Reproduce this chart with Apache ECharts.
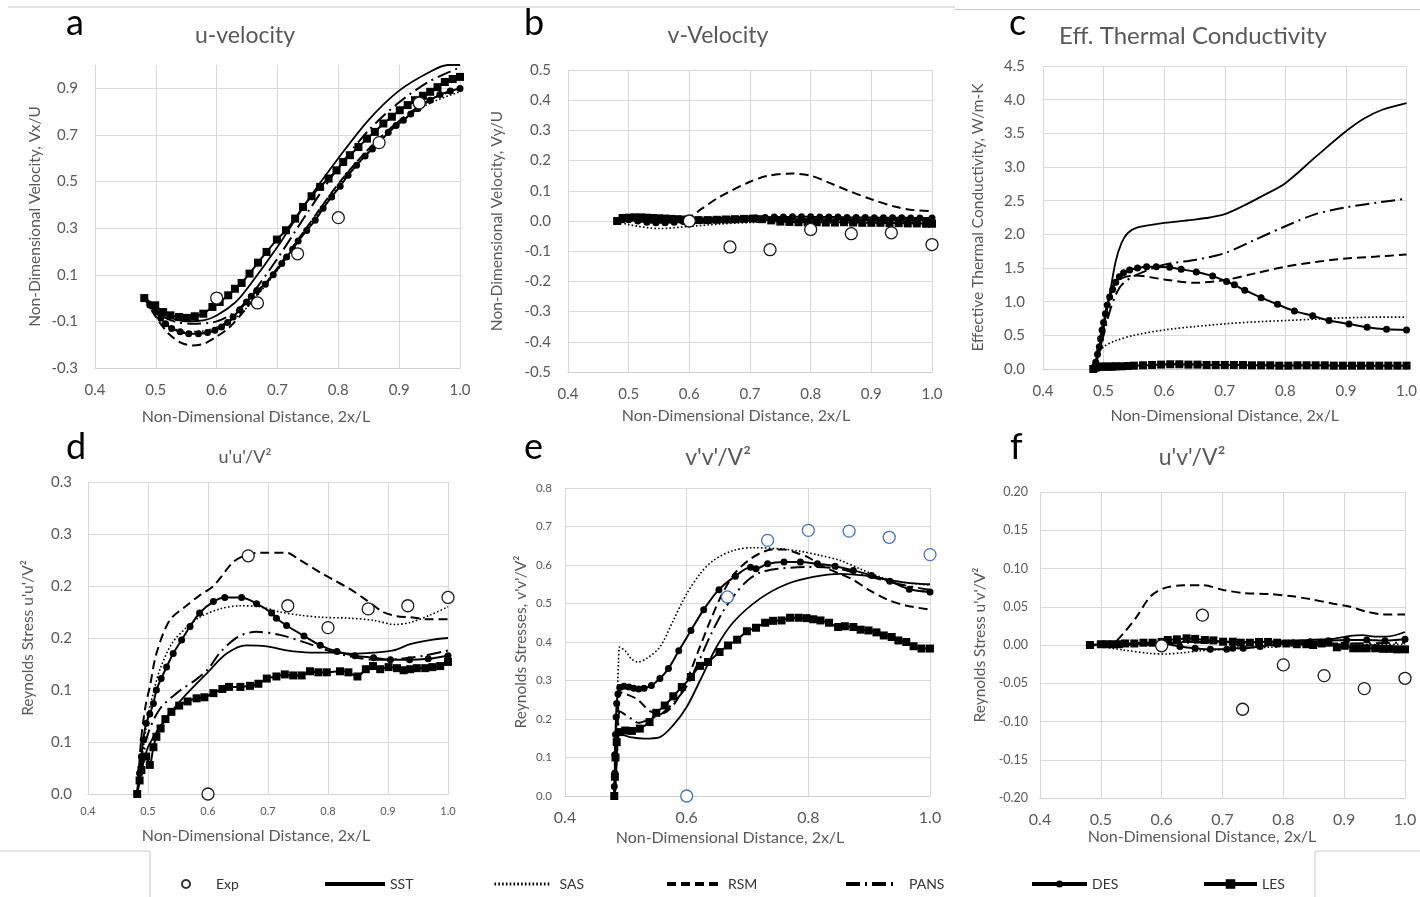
<!DOCTYPE html>
<html>
<head>
<meta charset="utf-8">
<title>Turbulence model comparison</title>
<script src="https://cdn.jsdelivr.net/npm/echarts@6/dist/echarts.min.js"></script>
<style>
  html, body { margin: 0; padding: 0; background: #ffffff; }
  #chart { width: 1420px; height: 897px; }
</style>
</head>
<body>
<div id="chart"></div>
<script>
// ---------------------------------------------------------------
// Data: [2x/L, value] pairs for each model, one block per panel
// ---------------------------------------------------------------
const SERIES_NAMES = ['Exp', 'SST', 'SAS', 'RSM', 'PANS', 'DES', 'LES'];

// (a) u-velocity, Vx/U
const a_Exp = [[0.6,0.0],[0.667,-0.021],[0.733,0.19],[0.8,0.345],[0.867,0.667],[0.933,0.837]];
const a_SST = [[0.481,0],[0.5,-0.05],[0.52,-0.08],[0.55,-0.1],[0.58,-0.095],[0.6,-0.075],[0.63,-0.02],[0.65,0.04],[0.7,0.22],[0.75,0.42],[0.8,0.6],[0.85,0.765],[0.9,0.89],[0.95,0.97],[0.98,1.0],[1.0,1.0]];
const a_SAS = [[0.481,0],[0.5,-0.08],[0.52,-0.12],[0.55,-0.145],[0.58,-0.14],[0.6,-0.125],[0.63,-0.085],[0.65,-0.04],[0.7,0.12],[0.75,0.3],[0.8,0.48],[0.85,0.625],[0.9,0.75],[0.95,0.835],[1.0,0.885]];
const a_RSM = [[0.481,0],[0.5,-0.08],[0.52,-0.15],[0.54,-0.19],[0.56,-0.203],[0.58,-0.195],[0.6,-0.165],[0.62,-0.128],[0.65,-0.04],[0.7,0.13],[0.75,0.31],[0.8,0.49],[0.85,0.64],[0.9,0.76],[0.95,0.85],[1.0,0.9]];
const a_PANS = [[0.481,0],[0.5,-0.06],[0.53,-0.1],[0.56,-0.11],[0.6,-0.1],[0.63,-0.06],[0.65,-0.01],[0.7,0.17],[0.75,0.37],[0.8,0.56],[0.85,0.72],[0.9,0.84],[0.95,0.93],[1.0,0.99]];
const a_DES = [[0.481,0],[0.49,-0.03],[0.5,-0.06],[0.508,-0.085],[0.516,-0.11],[0.526,-0.131],[0.54,-0.145],[0.554,-0.153],[0.57,-0.153],[0.585,-0.148],[0.597,-0.138],[0.608,-0.124],[0.618,-0.105],[0.627,-0.081],[0.638,-0.05],[0.649,-0.017],[0.657,0.008],[0.666,0.033],[0.68,0.059],[0.693,0.1],[0.707,0.148],[0.715,0.176],[0.725,0.21],[0.734,0.245],[0.748,0.29],[0.762,0.334],[0.775,0.385],[0.789,0.434],[0.803,0.48],[0.816,0.527],[0.83,0.57],[0.844,0.61],[0.856,0.64],[0.868,0.67],[0.882,0.71],[0.895,0.74],[0.907,0.763],[0.919,0.79],[0.931,0.813],[0.951,0.849],[0.967,0.873],[0.984,0.888],[1.0,0.899]];
const a_LES = [[0.481,0.0],[0.499,-0.031],[0.512,-0.06],[0.524,-0.074],[0.538,-0.081],[0.551,-0.085],[0.564,-0.078],[0.578,-0.067],[0.593,-0.038],[0.605,-0.017],[0.619,0.012],[0.63,0.04],[0.641,0.065],[0.654,0.105],[0.668,0.152],[0.682,0.198],[0.699,0.251],[0.714,0.291],[0.729,0.341],[0.742,0.391],[0.756,0.437],[0.77,0.477],[0.784,0.513],[0.797,0.548],[0.808,0.584],[0.819,0.613],[0.833,0.648],[0.847,0.684],[0.86,0.713],[0.874,0.749],[0.888,0.778],[0.901,0.806],[0.914,0.828],[0.926,0.849],[0.939,0.868],[0.951,0.885],[0.963,0.905],[0.975,0.927],[0.988,0.94],[1.0,0.949]];

// (b) v-velocity, Vy/U
const b_Exp = [[0.6,0.0],[0.667,-0.086],[0.733,-0.095],[0.8,-0.028],[0.867,-0.042],[0.933,-0.039],[1.0,-0.078]];
const b_SST = [[0.481,0],[0.5,0.005],[0.55,0.0],[0.6,0.0],[0.7,0.003],[0.8,0.005],[0.9,0.005],[1.0,0.005]];
const b_SAS = [[0.481,0],[0.5,-0.012],[0.55,-0.025],[0.6,-0.018],[0.65,-0.01],[0.7,-0.005],[0.8,0.0],[0.9,0.002],[1.0,0.003]];
const b_RSM = [[0.481,0],[0.49,0.02],[0.52,0.02],[0.56,0.012],[0.6,0.015],[0.62,0.04],[0.65,0.08],[0.7,0.13],[0.73,0.15],[0.77,0.157],[0.8,0.15],[0.83,0.127],[0.86,0.102],[0.9,0.072],[0.94,0.047],[0.97,0.036],[1.0,0.033]];
const b_PANS = [[0.481,0],[0.5,0.01],[0.55,0.005],[0.6,0.0],[0.7,0.005],[0.8,0.0],[0.9,-0.002],[1.0,-0.005]];
const b_DES = [[0.481,0],[0.49,0.004],[0.5,0.004],[0.515,0.0],[0.53,-0.004],[0.545,-0.006],[0.56,-0.006],[0.575,-0.004],[0.59,-0.002],[0.605,0.0],[0.62,0.002],[0.635,0.003],[0.65,0.004],[0.665,0.005],[0.68,0.006],[0.695,0.008],[0.71,0.01],[0.725,0.012],[0.74,0.013],[0.755,0.013],[0.77,0.014],[0.785,0.014],[0.8,0.014],[0.815,0.013],[0.83,0.013],[0.845,0.013],[0.86,0.012],[0.875,0.012],[0.89,0.012],[0.905,0.011],[0.92,0.011],[0.935,0.011],[0.95,0.011],[0.965,0.01],[0.98,0.01],[1.0,0.01]];
const b_LES = [[0.481,0],[0.49,0.01],[0.5,0.011],[0.51,0.012],[0.52,0.012],[0.53,0.011],[0.54,0.01],[0.55,0.009],[0.56,0.008],[0.57,0.007],[0.58,0.006],[0.59,0.005],[0.6,0.004],[0.615,0.003],[0.63,0.003],[0.645,0.004],[0.66,0.005],[0.675,0.006],[0.69,0.007],[0.705,0.008],[0.72,0.006],[0.735,0.002],[0.75,-0.002],[0.765,-0.003],[0.78,-0.004],[0.795,-0.004],[0.81,-0.004],[0.825,-0.005],[0.84,-0.005],[0.855,-0.004],[0.87,-0.005],[0.885,-0.006],[0.9,-0.006],[0.915,-0.006],[0.93,-0.007],[0.945,-0.007],[0.96,-0.008],[0.975,-0.008],[0.99,-0.009],[1.0,-0.009]];

// (c) effective thermal conductivity, W/m-K
const c_SST = [[0.483,0],[0.49,0.15],[0.5,0.6],[0.51,1.1],[0.52,1.6],[0.53,1.88],[0.54,2.02],[0.555,2.1],[0.6,2.17],[0.65,2.22],[0.675,2.25],[0.7,2.3],[0.73,2.42],[0.76,2.56],[0.8,2.76],[0.85,3.15],[0.9,3.53],[0.93,3.72],[0.96,3.85],[1.0,3.95]];
const c_SAS = [[0.483,0],[0.49,0.2],[0.5,0.33],[0.52,0.42],[0.55,0.5],[0.6,0.58],[0.65,0.63],[0.7,0.67],[0.75,0.7],[0.8,0.72],[0.85,0.74],[0.9,0.76],[0.95,0.77],[1.0,0.77]];
const c_RSM = [[0.483,0],[0.5,0.7],[0.51,1.1],[0.52,1.3],[0.55,1.39],[0.6,1.33],[0.65,1.28],[0.7,1.32],[0.75,1.42],[0.8,1.52],[0.85,1.59],[0.9,1.64],[0.95,1.67],[1.0,1.7]];
const c_PANS = [[0.483,0],[0.5,0.5],[0.51,0.85],[0.52,1.1],[0.53,1.25],[0.55,1.38],[0.6,1.55],[0.65,1.62],[0.7,1.72],[0.75,1.92],[0.8,2.12],[0.85,2.3],[0.9,2.4],[0.95,2.47],[1.0,2.53]];
const c_DES = [[0.483,0],[0.487,0.1],[0.49,0.22],[0.493,0.33],[0.495,0.45],[0.4975,0.58],[0.5,0.69],[0.503,0.82],[0.506,0.95],[0.51,1.07],[0.515,1.18],[0.52,1.29],[0.526,1.37],[0.533,1.43],[0.543,1.47],[0.556,1.5],[0.571,1.52],[0.587,1.52],[0.609,1.51],[0.628,1.48],[0.653,1.44],[0.68,1.38],[0.703,1.3],[0.716,1.25],[0.733,1.17],[0.76,1.06],[0.787,0.96],[0.815,0.86],[0.845,0.79],[0.872,0.72],[0.905,0.67],[0.935,0.62],[0.967,0.59],[1.0,0.58]];
const c_LES = [[0.483,0],[0.487,0.02],[0.49,0.03],[0.495,0.035],[0.5,0.035],[0.505,0.035],[0.51,0.035],[0.515,0.035],[0.52,0.04],[0.53,0.04],[0.54,0.045],[0.55,0.05],[0.565,0.055],[0.58,0.06],[0.595,0.065],[0.61,0.07],[0.625,0.07],[0.64,0.065],[0.655,0.065],[0.67,0.06],[0.685,0.06],[0.7,0.06],[0.715,0.06],[0.73,0.06],[0.745,0.055],[0.76,0.055],[0.775,0.055],[0.79,0.05],[0.805,0.05],[0.82,0.055],[0.835,0.055],[0.85,0.055],[0.865,0.055],[0.88,0.05],[0.895,0.05],[0.91,0.05],[0.925,0.05],[0.94,0.05],[0.955,0.05],[0.97,0.05],[0.985,0.05],[1.0,0.05]];

// (d) Reynolds stress u'u'/V^2
const d_Exp = [[0.6,0.0],[0.667,0.229],[0.733,0.181],[0.8,0.16],[0.867,0.178],[0.933,0.181],[1.0,0.189]];
const d_SST = [[0.482,0],[0.49,0.025],[0.5,0.045],[0.52,0.065],[0.54,0.08],[0.564,0.096],[0.598,0.116],[0.631,0.135],[0.664,0.143],[0.698,0.142],[0.731,0.138],[0.77,0.136],[0.809,0.136],[0.842,0.135],[0.876,0.136],[0.909,0.138],[0.937,0.144],[0.97,0.148],[1.0,0.15]];
const d_SAS = [[0.482,0],[0.49,0.035],[0.5,0.075],[0.51,0.1],[0.52,0.12],[0.54,0.145],[0.564,0.16],[0.586,0.17],[0.62,0.178],[0.653,0.181],[0.687,0.18],[0.72,0.175],[0.753,0.172],[0.787,0.17],[0.837,0.169],[0.876,0.167],[0.912,0.163],[0.937,0.165],[0.97,0.172],[1.0,0.18]];
const d_RSM = [[0.482,0],[0.489,0.055],[0.496,0.085],[0.503,0.103],[0.514,0.135],[0.536,0.167],[0.564,0.181],[0.586,0.191],[0.609,0.2],[0.642,0.223],[0.664,0.23],[0.687,0.232],[0.731,0.232],[0.753,0.225],[0.787,0.213],[0.809,0.206],[0.837,0.197],[0.865,0.186],[0.892,0.175],[0.915,0.171],[0.937,0.17],[0.965,0.168],[1.0,0.168]];
const d_PANS = [[0.482,0],[0.49,0.03],[0.5,0.058],[0.52,0.082],[0.55,0.098],[0.58,0.11],[0.6,0.12],[0.62,0.136],[0.65,0.151],[0.68,0.156],[0.72,0.153],[0.76,0.146],[0.8,0.138],[0.84,0.132],[0.88,0.129],[0.92,0.13],[0.96,0.133],[1.0,0.138]];
const d_DES = [[0.482,0],[0.486,0.02],[0.489,0.036],[0.492,0.052],[0.497,0.068],[0.503,0.077],[0.509,0.087],[0.514,0.1],[0.522,0.111],[0.531,0.122],[0.542,0.135],[0.556,0.148],[0.57,0.161],[0.586,0.174],[0.609,0.185],[0.628,0.189],[0.656,0.189],[0.681,0.183],[0.706,0.174],[0.714,0.169],[0.731,0.162],[0.76,0.152],[0.787,0.143],[0.815,0.137],[0.845,0.133],[0.876,0.131],[0.904,0.129],[0.936,0.129],[0.967,0.13],[1.0,0.133]];
const d_LES = [[0.482,0],[0.486,0.013],[0.489,0.023],[0.497,0.036],[0.503,0.028],[0.509,0.045],[0.514,0.055],[0.521,0.063],[0.529,0.072],[0.539,0.079],[0.552,0.085],[0.566,0.089],[0.581,0.092],[0.594,0.093],[0.609,0.097],[0.624,0.101],[0.635,0.103],[0.654,0.103],[0.67,0.104],[0.684,0.106],[0.698,0.111],[0.714,0.113],[0.728,0.115],[0.742,0.114],[0.756,0.114],[0.77,0.118],[0.784,0.117],[0.798,0.117],[0.82,0.118],[0.834,0.117],[0.849,0.113],[0.863,0.12],[0.875,0.123],[0.887,0.12],[0.901,0.122],[0.915,0.121],[0.926,0.119],[0.937,0.12],[0.948,0.121],[0.962,0.121],[0.974,0.122],[0.987,0.123],[1.0,0.127]];
// u'u' axis ticks run every 0.05 but are printed with one decimal
const d_Y_TICK_LABELS = ['0.0', '0.1', '0.1', '0.2', '0.2', '0.3', '0.3'];

// (e) Reynolds stress v'v'/V^2
const e_Exp = [[0.6,0.0],[0.667,0.517],[0.733,0.664],[0.8,0.69],[0.867,0.688],[0.933,0.672],[1.0,0.627]];
const e_SST = [[0.482,0],[0.485,0.1],[0.488,0.155],[0.49,0.16],[0.51,0.152],[0.53,0.149],[0.556,0.153],[0.578,0.184],[0.6,0.231],[0.622,0.3],[0.649,0.387],[0.677,0.452],[0.72,0.512],[0.764,0.55],[0.808,0.569],[0.852,0.577],[0.89,0.573],[0.929,0.562],[0.967,0.553],[1.0,0.55]];
const e_SAS = [[0.482,0],[0.485,0.2],[0.488,0.35],[0.49,0.387],[0.5,0.375],[0.51,0.355],[0.52,0.348],[0.534,0.357],[0.556,0.387],[0.578,0.456],[0.6,0.525],[0.622,0.577],[0.644,0.612],[0.677,0.638],[0.71,0.645],[0.753,0.642],[0.786,0.636],[0.819,0.625],[0.852,0.612],[0.885,0.59],[0.918,0.569],[0.951,0.556],[1.0,0.548]];
const e_RSM = [[0.482,0],[0.487,0.2],[0.49,0.27],[0.5,0.265],[0.52,0.25],[0.54,0.22],[0.56,0.215],[0.58,0.24],[0.6,0.3],[0.62,0.38],[0.64,0.46],[0.66,0.53],[0.68,0.58],[0.7,0.61],[0.72,0.63],[0.74,0.64],[0.76,0.64],[0.78,0.632],[0.8,0.62],[0.82,0.6],[0.85,0.578],[0.87,0.565],[0.9,0.535],[0.93,0.51],[0.96,0.495],[1.0,0.484]];
const e_PANS = [[0.482,0],[0.487,0.15],[0.49,0.22],[0.5,0.21],[0.51,0.2],[0.52,0.19],[0.54,0.2],[0.56,0.215],[0.58,0.245],[0.6,0.285],[0.62,0.35],[0.64,0.42],[0.66,0.48],[0.68,0.525],[0.7,0.56],[0.72,0.58],[0.75,0.59],[0.8,0.595],[0.85,0.59],[0.9,0.57],[0.95,0.55],[1.0,0.535]];
const e_DES = [[0.481,0],[0.481,0.025],[0.482,0.06],[0.482,0.107],[0.483,0.16],[0.484,0.205],[0.485,0.24],[0.487,0.265],[0.49,0.282],[0.497,0.285],[0.505,0.283],[0.513,0.28],[0.521,0.278],[0.53,0.28],[0.542,0.287],[0.556,0.305],[0.57,0.331],[0.587,0.377],[0.607,0.43],[0.628,0.484],[0.653,0.536],[0.68,0.571],[0.705,0.594],[0.714,0.59],[0.733,0.603],[0.76,0.608],[0.787,0.608],[0.815,0.603],[0.844,0.597],[0.874,0.586],[0.904,0.573],[0.934,0.558],[0.966,0.537],[1.0,0.53]];
const e_LES = [[0.481,0],[0.482,0.05],[0.483,0.1],[0.485,0.14],[0.49,0.166],[0.499,0.17],[0.51,0.169],[0.523,0.175],[0.539,0.192],[0.55,0.216],[0.564,0.235],[0.578,0.259],[0.592,0.283],[0.607,0.309],[0.622,0.338],[0.635,0.348],[0.654,0.374],[0.668,0.391],[0.683,0.406],[0.699,0.428],[0.714,0.437],[0.729,0.45],[0.742,0.455],[0.756,0.456],[0.77,0.463],[0.784,0.463],[0.797,0.462],[0.808,0.459],[0.82,0.456],[0.834,0.45],[0.849,0.439],[0.86,0.441],[0.874,0.439],[0.886,0.432],[0.899,0.43],[0.912,0.425],[0.924,0.417],[0.937,0.413],[0.948,0.404],[0.961,0.4],[0.973,0.389],[0.986,0.383],[1.0,0.383]];

// (f) Reynolds stress u'v'/V^2
const f_Exp = [[0.6,-0.001],[0.667,0.039],[0.733,-0.084],[0.8,-0.026],[0.867,-0.04],[0.933,-0.057],[1.0,-0.0435]];
const f_SST = [[0.482,0],[0.55,0.001],[0.65,0.004],[0.75,0.004],[0.8,0.005],[0.85,0.007],[0.88,0.008],[0.91,0.012],[0.93,0.013],[0.95,0.011],[0.97,0.011],[1.0,0.017]];
const f_SAS = [[0.482,0],[0.5,-0.002],[0.537,-0.0065],[0.581,-0.011],[0.608,-0.0117],[0.636,-0.01],[0.668,-0.0074],[0.729,-0.0043],[0.773,-0.003],[0.82,-0.001],[0.9,0.0],[1.0,0.001]];
const f_RSM = [[0.482,0],[0.5,0.0],[0.52,0.002],[0.537,0.015],[0.559,0.037],[0.581,0.063],[0.603,0.074],[0.636,0.078],[0.668,0.078],[0.701,0.072],[0.734,0.068],[0.778,0.0665],[0.811,0.064],[0.844,0.06],[0.882,0.054],[0.91,0.05],[0.937,0.0435],[0.964,0.04],[1.0,0.04]];
const f_PANS = [[0.482,0],[0.55,0.0],[0.65,0.003],[0.75,0.004],[0.85,0.002],[0.9,0.002],[1.0,0.003]];
const f_DES = [[0.482,0],[0.6,0.002],[0.63,-0.002],[0.655,-0.0043],[0.68,-0.0057],[0.707,-0.0057],[0.717,-0.0043],[0.734,-0.0043],[0.762,-0.002],[0.789,0.001],[0.816,0.003],[0.844,0.0043],[0.874,0.0057],[0.904,0.0065],[0.937,0.0065],[0.967,0.0057],[1.0,0.0074]];
const f_LES = [[0.482,0],[0.5,0.001],[0.51,0.001],[0.52,0.001],[0.53,0.001],[0.54,0.002],[0.555,0.002],[0.57,0.003],[0.585,0.003],[0.6,0.004],[0.61,0.0065],[0.625,0.0074],[0.641,0.0087],[0.655,0.008],[0.671,0.0065],[0.685,0.006],[0.701,0.0043],[0.717,0.0043],[0.73,0.003],[0.745,0.003],[0.76,0.004],[0.775,0.004],[0.79,0.003],[0.805,0.002],[0.822,0.001],[0.838,0.001],[0.849,0.0],[0.863,0.002],[0.874,0.003],[0.888,-0.003],[0.901,-0.001],[0.915,-0.0043],[0.926,-0.0043],[0.937,-0.0043],[0.951,-0.0043],[0.964,-0.005],[0.974,-0.005],[0.987,-0.0057],[1.0,-0.0057]];

// ---------------------------------------------------------------
// Panel layout and axis setup
// ---------------------------------------------------------------
const FONT = 'Lato, "Open Sans", sans-serif';
const GREY_TEXT = '#595959';
const GRID_LINE = '#d9d9d9';

const panels = [
  { letter: 'a', title: 'u-velocity', titleSize: 23, titleX: 245, titleY: 36,
    letterX: 66, letterY: 23,
    rect: { left: 95, top: 65, width: 365, height: 303 },
    series: { Exp: a_Exp, SST: a_SST, SAS: a_SAS, RSM: a_RSM, PANS: a_PANS, DES: a_DES, LES: a_LES },
    x: { interval: 0.1, font: 15, margin: 15, nameGap: 41, nameShift: 43 },
    y: { min: -0.3, max: 1.0, interval: 0.2, fmt: v => v.toFixed(1), font: 15, margin: 17, topLine: false,
         name: 'Non-Dimensional Velocity, Vx/U', nameGap: 52 } },
  { letter: 'b', title: 'v-Velocity', titleSize: 23, titleX: 718, titleY: 36,
    letterX: 524, letterY: 23,
    rect: { left: 568, top: 70, width: 364, height: 302 },
    series: { Exp: b_Exp, SST: b_SST, SAS: b_SAS, RSM: b_RSM, PANS: b_PANS, DES: b_DES, LES: b_LES },
    x: { interval: 0.1, font: 15, margin: 15, nameGap: 36, nameShift: 28 },
    y: { min: -0.5, max: 0.5, interval: 0.1, fmt: v => v.toFixed(1), font: 15, margin: 17, topLine: true,
         name: 'Non-Dimensional Velocity, Vy/U', nameGap: 63 } },
  { letter: 'c', title: 'Eff. Thermal Conductivity', titleSize: 24, titleX: 1193, titleY: 36,
    letterX: 1009, letterY: 23,
    rect: { left: 1043, top: 66, width: 365, height: 303 },
    series: { SST: c_SST, SAS: c_SAS, RSM: c_RSM, PANS: c_PANS, DES: c_DES, LES: c_LES },
    x: { interval: 0.1, font: 15, margin: 15, nameGap: 39, nameShift: 0 },
    y: { min: 0, max: 4.5, interval: 0.5, fmt: v => v.toFixed(1), font: 15, margin: 18, topLine: true,
         name: 'Effective Thermal Conductivity, W/m-K', nameGap: 57 } },
  { letter: 'd', title: "u'u'/V\u00B2", titleSize: 18, titleX: 245, titleY: 457,
    letterX: 66, letterY: 447,
    rect: { left: 88, top: 482, width: 360, height: 312 },
    series: { Exp: d_Exp, SST: d_SST, SAS: d_SAS, RSM: d_RSM, PANS: d_PANS, DES: d_DES, LES: d_LES },
    x: { interval: 0.1, font: 11, margin: 12, nameGap: 34, nameShift: 24 },
    y: { min: 0, max: 0.3, interval: 0.05, fmt: v => d_Y_TICK_LABELS[Math.round(v / 0.05)], font: 15, margin: 16, topLine: true,
         name: "Reynolds Stress u'u'/V\u00B2", nameGap: 52 } },
  { letter: 'e', title: "v'v'/V\u00B2", titleSize: 23, titleX: 718, titleY: 458,
    letterX: 524, letterY: 447,
    rect: { left: 565, top: 488, width: 365, height: 308 },
    series: { Exp: e_Exp, SST: e_SST, SAS: e_SAS, RSM: e_RSM, PANS: e_PANS, DES: e_DES, LES: e_LES },
    expColor: '#4472c4',
    x: { interval: 0.2, font: 16, margin: 14, nameGap: 34, nameShift: 35 },
    y: { min: 0, max: 0.8, interval: 0.1, fmt: v => v.toFixed(1), font: 11.5, margin: 13, topLine: true,
         name: "Reynolds Stresses, v'v'/V\u00B2", nameGap: 36 } },
  { letter: 'f', title: "u'v'/V\u00B2", titleSize: 23, titleX: 1192, titleY: 458,
    letterX: 1010, letterY: 447,
    rect: { left: 1040, top: 492, width: 365, height: 306 },
    series: { Exp: f_Exp, SST: f_SST, SAS: f_SAS, RSM: f_RSM, PANS: f_PANS, DES: f_DES, LES: f_LES },
    x: { interval: 0.1, font: 16, margin: 14, nameGap: 30, nameShift: 41 },
    y: { min: -0.2, max: 0.2, interval: 0.05, fmt: v => v.toFixed(2), font: 12.5, margin: 12, topLine: true,
         name: "Reynolds Stress u'v'/V\u00B2", nameGap: 52 } }
];

// Line appearance per model
const LINE_STYLES = {
  SST:  { type: 'solid', width: 1.8, symbol: 'none' },
  SAS:  { type: [1.6, 2.2], width: 1.6, symbol: 'none' },
  RSM:  { type: [9, 5], width: 2, symbol: 'none' },
  PANS: { type: [14, 5, 2, 5], width: 2, symbol: 'none' },
  DES:  { type: 'solid', width: 2, symbol: 'circle', symbolSize: 7 },
  LES:  { type: 'solid', width: 2, symbol: 'rect', symbolSize: 8 }
};

const grids = [], xAxes = [], yAxes = [], series = [], graphics = [];

panels.forEach((p, i) => {
  grids.push(Object.assign({ containLabel: false }, p.rect));

  xAxes.push({
    type: 'value', gridIndex: i, min: 0.4, max: 1.0, interval: p.x.interval,
    axisLine: { show: true, onZero: false, lineStyle: { color: '#d0d0d0', width: 1 } },
    axisTick: { show: false },
    axisLabel: { color: GREY_TEXT, fontSize: p.x.font, fontFamily: FONT, margin: p.x.margin,
                 formatter: v => v.toFixed(1) },
    splitLine: { show: true, lineStyle: { color: GRID_LINE, width: 1 } },
    name: 'Non-Dimensional Distance, 2x/L', nameLocation: 'middle', nameGap: p.x.nameGap,
    nameTextStyle: { color: GREY_TEXT, fontSize: 16, fontFamily: FONT, padding: [0, p.x.nameShift, 0, 0] }
  });

  yAxes.push({
    type: 'value', gridIndex: i, min: p.y.min, max: p.y.max, interval: p.y.interval,
    axisLine: { show: false }, axisTick: { show: false },
    axisLabel: { color: GREY_TEXT, fontSize: p.y.font, fontFamily: FONT, margin: p.y.margin,
                 formatter: p.y.fmt, showMaxLabel: p.y.topLine },
    splitLine: { show: true, showMaxLine: p.y.topLine, lineStyle: { color: GRID_LINE, width: 1 } },
    name: p.y.name, nameLocation: 'middle', nameRotate: 90, nameGap: p.y.nameGap,
    nameTextStyle: { color: GREY_TEXT, fontSize: 15.5, fontFamily: FONT }
  });

  SERIES_NAMES.forEach(name => {
    const data = p.series[name];
    if (!data) return;
    if (name === 'Exp') {
      series.push({
        name, type: 'scatter', xAxisIndex: i, yAxisIndex: i, data,
        symbol: 'circle', symbolSize: 12, z: 5,
        itemStyle: { color: '#ffffff', borderColor: p.expColor || '#1a1a1a', borderWidth: 1.3, opacity: 1 }
      });
    } else {
      const s = LINE_STYLES[name];
      series.push({
        name, type: 'line', xAxisIndex: i, yAxisIndex: i, data,
        smooth: 0.3, symbol: s.symbol, symbolSize: s.symbolSize || 0, showSymbol: s.symbol !== 'none',
        z: 3,
        lineStyle: { color: '#000000', width: s.width, type: s.type },
        itemStyle: { color: '#000000' }
      });
    }
  });

  graphics.push({
    type: 'text', left: p.letterX, top: p.letterY - 18,
    style: { text: p.letter, font: '36px ' + FONT, fill: '#000000' }
  });
  graphics.push({
    type: 'text', x: p.titleX, y: p.titleY,
    style: { text: p.title, font: p.titleSize + 'px ' + FONT, fill: GREY_TEXT, align: 'center', verticalAlign: 'middle' }
  });
});

// Thin frame lines around the figure and legend strip
const FRAME = '#c8c8c8';
[[8, 7, 955, 7], [955, 9.5, 1420, 9.5], [0, 851, 150, 851], [150, 851, 150, 897],
 [1315, 851, 1315, 897], [1315, 851, 1420, 851]].forEach(([x1, y1, x2, y2]) => {
  graphics.push({ type: 'line', shape: { x1, y1, x2, y2 }, style: { stroke: FRAME, lineWidth: 1 }, silent: true });
});

// One legend per entry so each sits at its own place along the strip
const LEGEND_ITEMS = [
  { name: 'Exp',  left: 181,  width: 8,  height: 8,  line: 0, textPad: 21 },
  { name: 'SST',  left: 323,  width: 60, height: 14, line: 4, textPad: 0 },
  { name: 'SAS',  left: 493,  width: 56, height: 14, line: 3, textPad: 4 },
  { name: 'RSM',  left: 665,  width: 56, height: 14, line: 4, textPad: 0 },
  { name: 'PANS', left: 844,  width: 50, height: 14, line: 4, textPad: 8 },
  { name: 'DES',  left: 1030, width: 55, height: 9,  line: 4, textPad: 0 },
  { name: 'LES',  left: 1202, width: 53, height: 12, line: 4, textPad: 0 }
];
const legends = LEGEND_ITEMS.map(it => {
  const lg = {
    left: it.left, top: 877, orient: 'horizontal', padding: 0,
    itemWidth: it.width, itemHeight: it.height, itemGap: 0,
    textStyle: { color: '#333333', fontSize: 14, fontFamily: FONT, padding: [0, 0, 0, it.textPad] },
    data: [it.name]
  };
  if (it.name === 'Exp') {
    lg.data = [{ name: 'Exp', icon: 'circle', itemStyle: { color: '#ffffff', borderColor: '#333333', borderWidth: 2 } }];
  } else {
    lg.lineStyle = { width: it.line };
    // plain lines carry no marker in the key
    if (LINE_STYLES[it.name].symbol === 'none') {
      lg.itemStyle = { color: 'rgba(0,0,0,0)', borderColor: 'rgba(0,0,0,0)', borderWidth: 0 };
    }
  }
  return lg;
});

const chart = echarts.init(document.getElementById('chart'), null, { renderer: 'canvas' });
chart.setOption({
  backgroundColor: '#ffffff',
  animation: false,
  grid: grids,
  xAxis: xAxes,
  yAxis: yAxes,
  legend: legends,
  series: series,
  graphic: graphics
});
</script>
</body>
</html>
